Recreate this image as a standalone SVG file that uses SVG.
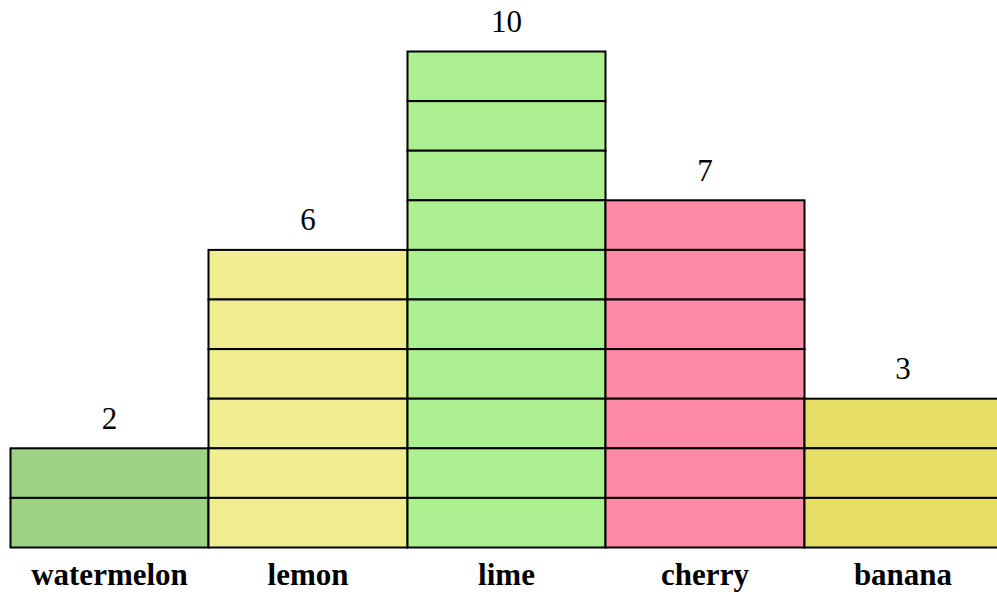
<svg xmlns="http://www.w3.org/2000/svg" width="997" height="592" viewBox="0 0 997 592">
<style>
.c{stroke:#000;stroke-width:2}
.w{fill:#9dd184}.le{fill:#f0ee90}.li{fill:#adf091}.ch{fill:#ff8aa8}.b{fill:#e6de65}
</style>
<rect width="997" height="592" fill="#fff"/>
<g font-family="Liberation Serif, Times New Roman, serif" font-size="31" text-anchor="middle" fill="#000">
<g id="watermelon">
<rect class="c w" x="10.5" y="448.3" width="198" height="49.6"/>
<rect class="c w" x="10.5" y="497.9" width="198" height="49.6"/>
<text x="109.5" y="429">2</text>
<text x="109.5" y="585" font-weight="bold">watermelon</text>
</g>
<g id="lemon">
<rect class="c le" x="208.5" y="249.9" width="199" height="49.6"/>
<rect class="c le" x="208.5" y="299.5" width="199" height="49.6"/>
<rect class="c le" x="208.5" y="349.1" width="199" height="49.6"/>
<rect class="c le" x="208.5" y="398.7" width="199" height="49.6"/>
<rect class="c le" x="208.5" y="448.3" width="199" height="49.6"/>
<rect class="c le" x="208.5" y="497.9" width="199" height="49.6"/>
<text x="308" y="230">6</text>
<text x="308" y="585" font-weight="bold">lemon</text>
</g>
<g id="lime">
<rect class="c li" x="407.5" y="51.5" width="198" height="49.6"/>
<rect class="c li" x="407.5" y="101.1" width="198" height="49.6"/>
<rect class="c li" x="407.5" y="150.7" width="198" height="49.6"/>
<rect class="c li" x="407.5" y="200.3" width="198" height="49.6"/>
<rect class="c li" x="407.5" y="249.9" width="198" height="49.6"/>
<rect class="c li" x="407.5" y="299.5" width="198" height="49.6"/>
<rect class="c li" x="407.5" y="349.1" width="198" height="49.6"/>
<rect class="c li" x="407.5" y="398.7" width="198" height="49.6"/>
<rect class="c li" x="407.5" y="448.3" width="198" height="49.6"/>
<rect class="c li" x="407.5" y="497.9" width="198" height="49.6"/>
<text x="506.5" y="32">10</text>
<text x="506.5" y="585" font-weight="bold">lime</text>
</g>
<g id="cherry">
<rect class="c ch" x="605.5" y="200.3" width="199" height="49.6"/>
<rect class="c ch" x="605.5" y="249.9" width="199" height="49.6"/>
<rect class="c ch" x="605.5" y="299.5" width="199" height="49.6"/>
<rect class="c ch" x="605.5" y="349.1" width="199" height="49.6"/>
<rect class="c ch" x="605.5" y="398.7" width="199" height="49.6"/>
<rect class="c ch" x="605.5" y="448.3" width="199" height="49.6"/>
<rect class="c ch" x="605.5" y="497.9" width="199" height="49.6"/>
<text x="705" y="181">7</text>
<text x="705" y="585" font-weight="bold">cherry</text>
</g>
<g id="banana">
<rect class="c b" x="804.5" y="398.7" width="199" height="49.6"/>
<rect class="c b" x="804.5" y="448.3" width="199" height="49.6"/>
<rect class="c b" x="804.5" y="497.9" width="199" height="49.6"/>
<text x="903" y="379">3</text>
<text x="903" y="585" font-weight="bold">banana</text>
</g>
</g>
<g id="connectors"/>
</svg>
